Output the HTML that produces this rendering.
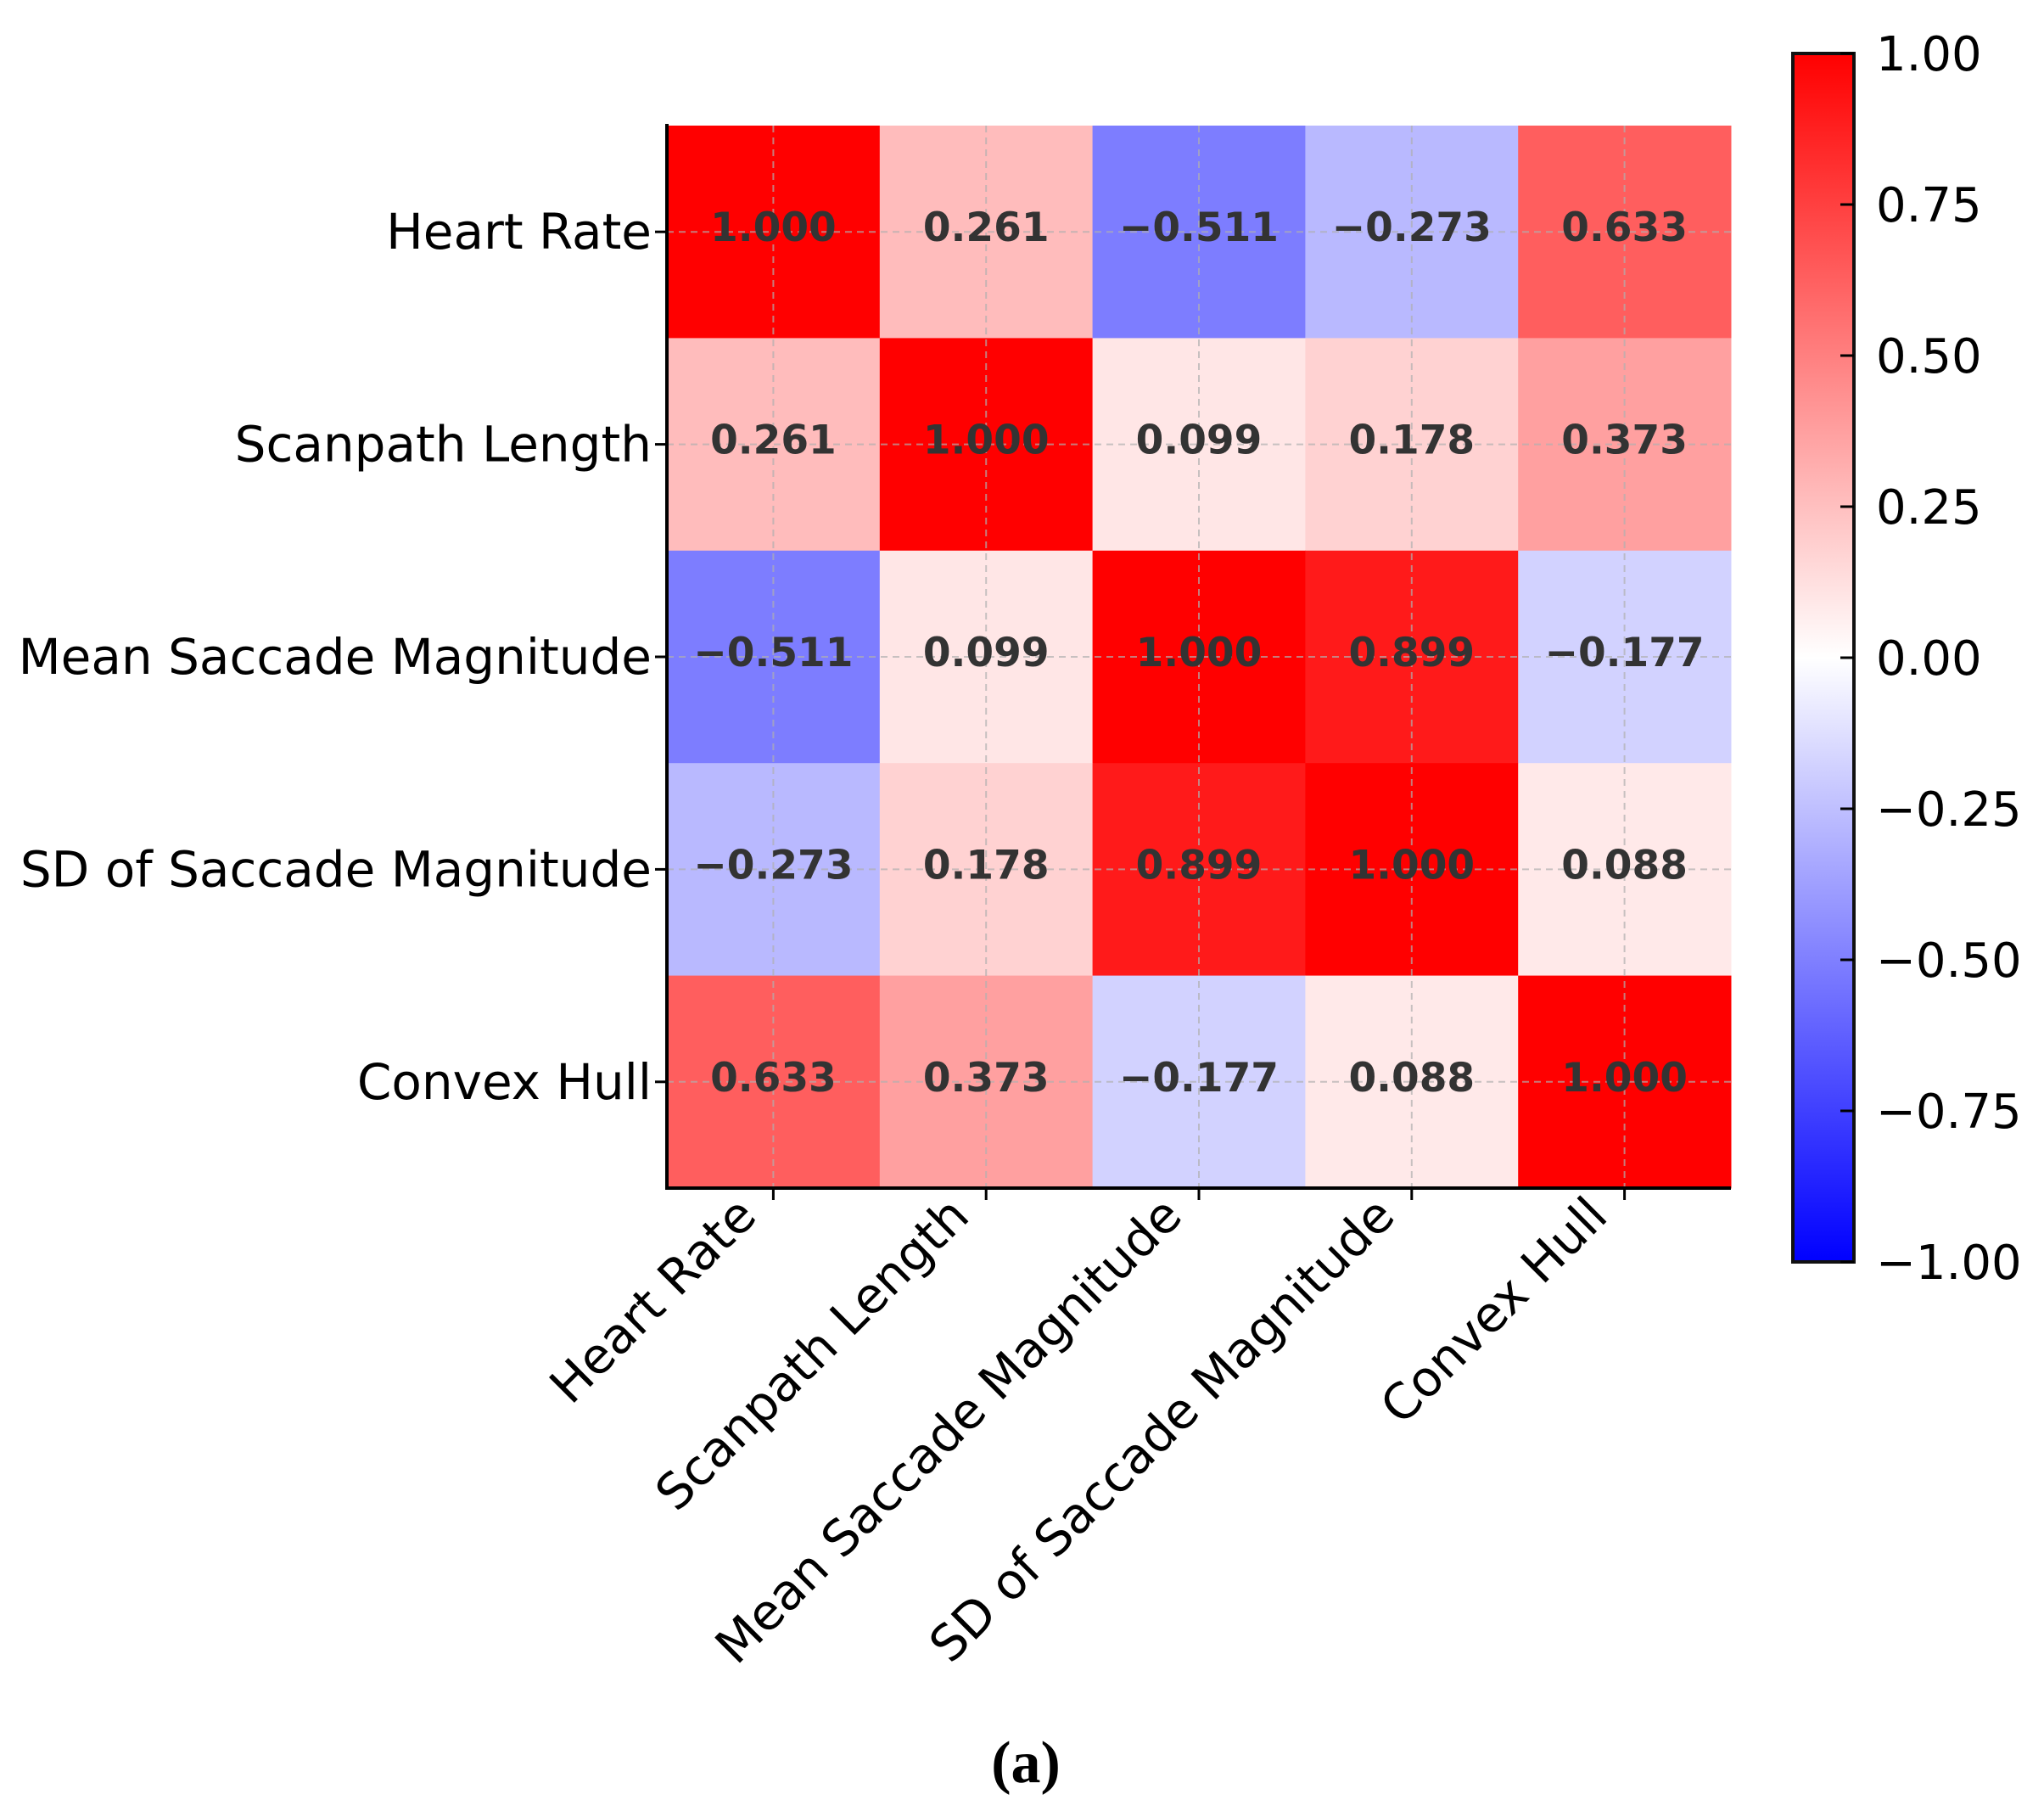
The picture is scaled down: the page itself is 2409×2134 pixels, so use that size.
<!DOCTYPE html>
<html><head><meta charset="utf-8"><style>body{margin:0;background:#fff}svg{display:block}</style></head>
<body>
<svg id="chart" width="2409" height="2134" xmlns="http://www.w3.org/2000/svg">
<g id="cells"></g>
<g id="grid"></g>
<g id="annot"></g>
<g id="axes"></g>
<g id="cbar"></g>
<text x="1209" y="2100" text-anchor="middle" font-family="Liberation Serif, serif" font-weight="bold" font-size="70">(a)</text>
</svg>
<script>
const labels = ["Heart Rate","Scanpath Length","Mean Saccade Magnitude","SD of Saccade Magnitude","Convex Hull"];
const row0 = [1.000, 0.261, -0.511, -0.273, 0.633];
const row1 = [0.261, 1.000, 0.099, 0.178, 0.373];
const row2 = [-0.511, 0.099, 1.000, 0.899, -0.177];
const row3 = [-0.273, 0.178, 0.899, 1.000, 0.088];
const row4 = [0.633, 0.373, -0.177, 0.088, 1.000];
const matrix = [row0,row1,row2,row3,row4];
const cbarTicks = [1.00,0.75,0.50,0.25,0.00,-0.25,-0.50,-0.75,-1.00];

const NS="http://www.w3.org/2000/svg";
const L=786,R=2040,T=148,B=1400;
const n=labels.length, cw=(R-L)/n, ch=(B-T)/n;
const xc=i=>L+cw*(i+0.5), yc=i=>T+ch*(i+0.5);
const CT=63, CB=1487, CL=2113, CR=2185, CLABEL_OFF=26;
const cy=v=>CT+(1-v)/2*(CB-CT);
function col(v){v=Math.max(-1,Math.min(1,v));let r,g,b;
 if(v>=0){r=255;g=b=Math.round(255*(1-v));}else{b=255;r=g=Math.round(255*(1+v));}
 return `rgb(${r},${g},${b})`;}
function mk(tag,attrs,parent,txt){const e=document.createElementNS(NS,tag);for(const k in attrs)e.setAttribute(k,attrs[k]);if(txt!==undefined)e.textContent=txt;parent.appendChild(e);return e;}
const fmt=v=>(v<0?"\u2212":"")+Math.abs(v).toFixed(3);
const cells=document.getElementById('cells'),grid=document.getElementById('grid'),annot=document.getElementById('annot'),axes=document.getElementById('axes'),cbar=document.getElementById('cbar');
matrix.forEach((row,i)=>row.forEach((v,j)=>{
 const r=mk('rect',{x:L+cw*j,y:T+ch*i,width:cw+0.5,height:ch+0.5,fill:col(v)},cells);
 
 
 const t=mk('text',{x:xc(j),y:yc(i)+11,'text-anchor':'middle','font-family':'DejaVu Sans, Liberation Sans, sans-serif','font-weight':'bold','font-size':47,fill:'#333'},annot,fmt(v));
 
 
}));
for(let i=0;i<n;i++){
 const a=mk('line',{x1:xc(i),x2:xc(i),y1:T,y2:B,stroke:'#b0b0b0','stroke-dasharray':'8,6','stroke-width':2,opacity:0.7},grid);
 
 
 const b=mk('line',{x1:L,x2:R,y1:yc(i),y2:yc(i),stroke:'#b0b0b0','stroke-dasharray':'8,6','stroke-width':2,opacity:0.7},grid);
 
 
 const yt=mk('line',{x1:L-14,x2:L,y1:yc(i),y2:yc(i),stroke:'#000','stroke-width':3},axes);
 
 
 const yl=mk('text',{x:L-18,y:yc(i)+20,'text-anchor':'end','font-family':'DejaVu Sans, Liberation Sans, sans-serif','font-size':58,fill:'#000'},axes,labels[i]);
 
 
 const xt=mk('line',{x1:xc(i),x2:xc(i),y1:B,y2:B+14,stroke:'#000','stroke-width':3},axes);
 
 
 const xl=mk('text',{transform:`translate(${xc(i)-47},${B+6}) rotate(-45)`,'text-anchor':'end','font-family':'DejaVu Sans, Liberation Sans, sans-serif','font-size':58,fill:'#000',x:0,y:42},axes,labels[i]);
 
 
}
const ax1=mk('line',{x1:L,x2:L,y1:T-2,y2:B+2,stroke:'#000','stroke-width':4},axes);


const ax2=mk('line',{x1:L-2,x2:R,y1:B,y2:B,stroke:'#000','stroke-width':4},axes);


const defs=mk('defs',{},cbar);
const g=mk('linearGradient',{id:'bwr',x1:0,y1:0,x2:0,y2:1},defs);
mk('stop',{offset:'0',  'stop-color':'rgb(255,0,0)'},g);
mk('stop',{offset:'0.5','stop-color':'rgb(255,255,255)'},g);
mk('stop',{offset:'1',  'stop-color':'rgb(0,0,255)'},g);
const cr=mk('rect',{x:CL,y:CT,width:CR-CL,height:CB-CT,fill:'url(#bwr)',stroke:'#111','stroke-width':4},cbar);


cbarTicks.forEach(v=>{
 const tk=mk('line',{x1:CR-16,x2:CR,y1:cy(v),y2:cy(v),stroke:'#000','stroke-width':3},cbar);
 
 
 const tl=mk('text',{x:CR+CLABEL_OFF,y:cy(v)+20,'font-family':'DejaVu Sans, Liberation Sans, sans-serif','font-size':56,fill:'#000'},cbar,(v<0?"\u2212":"")+Math.abs(v).toFixed(2));
 
 
});
</script>
</body></html>
